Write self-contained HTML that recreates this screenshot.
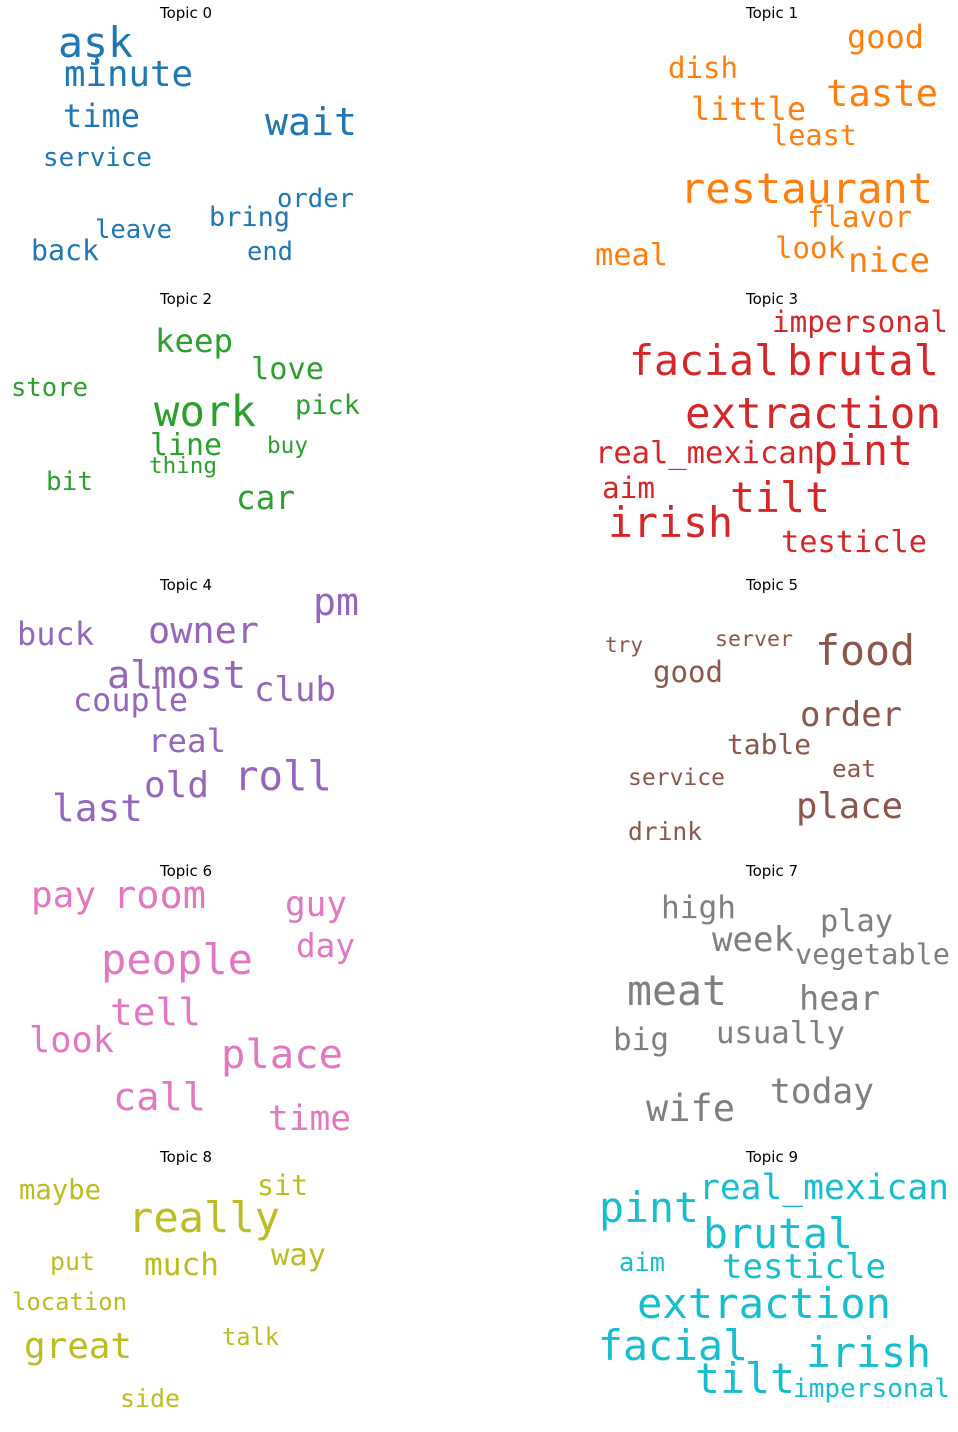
<!DOCTYPE html>
<html><head><meta charset="utf-8"><style>
html,body{margin:0;padding:0;background:#fff;}
svg{display:block;}
</style></head><body>
<svg id="chart" width="958" height="1432" viewBox="0 0 958 1432" xmlns="http://www.w3.org/2000/svg"></svg>
<script>
const topicColors = ["#1f77b4","#ff7f0e","#2ca02c","#d62728","#9467bd","#8c564b","#e377c2","#7f7f7f","#bcbd22","#17becf"];
const topicWords = [
 ["aşk","minute","time","wait","service","order","bring","leave","back","end"],
 ["good","dish","taste","little","least","restaurant","flavor","meal","look","nice"],
 ["keep","love","store","work","pick","line","buy","thing","bit","car"],
 ["impersonal","facial","brutal","extraction","real_mexican","pint","aim","tilt","irish","testicle"],
 ["pm","buck","owner","almost","club","couple","real","roll","old","last"],
 ["try","server","food","good","order","table","eat","service","place","drink"],
 ["pay","room","guy","day","people","tell","look","place","call","time"],
 ["high","play","week","vegetable","meat","hear","usually","big","today","wife"],
 ["sit","maybe","really","put","much","way","location","talk","great","side"],
 ["real_mexican","pint","brutal","aim","testicle","extraction","facial","irish","tilt","impersonal"]
];
const topicLeft = [
 [58,64,63,265,43,277,209,95,31,247],
 [847,668,826,691,771,680,807,595,775,848],
 [155,251,11,154,295,150,267,149,46,236],
 [772,629,787,685,595,813,602,730,608,781],
 [313,17,148,107,254,73,148,234,144,52],
 [605,715,815,653,800,727,832,628,796,628],
 [31,113,285,296,101,110,29,221,113,268],
 [661,820,712,795,627,799,716,613,770,646],
 [257,19,128,50,144,271,12,222,24,120],
 [699,599,703,619,722,637,598,806,695,793]
];
const topicBaseline = [
 [57,86,127,135,166,207,226,238,260,260],
 [48,78,106,120,145,203,227,265,258,272],
 [352,379,396,426,414,455,453,473,490,509],
 [332,375,375,428,463,465,498,512,537,552],
 [615,645,643,688,701,711,752,790,797,821],
 [652,646,665,682,726,754,777,785,818,840],
 [907,908,916,957,974,1025,1052,1068,1110,1130],
 [918,931,951,964,1005,1010,1043,1050,1103,1121],
 [1195,1199,1232,1270,1275,1265,1310,1345,1358,1407],
 [1199,1222,1248,1271,1278,1318,1360,1367,1393,1397]
];
const topicWidth = [
 [75,129,77,92,109,77,81,77,68,46],
 [77,70,112,115,86,253,105,73,70,82],
 [78,73,77,102,65,72,41,68,47,59],
 [176,150,152,256,220,100,53,100,125,146],
 [46,77,111,139,82,115,78,98,65,91],
 [38,78,100,70,102,84,44,97,107,74],
 [65,93,62,59,152,91,85,122,93,83],
 [75,73,82,155,100,81,129,56,104,89],
 [51,82,152,45,75,55,115,57,108,60],
 [250,100,150,46,164,254,150,125,100,157]
];
const titleCenters = [186,772];
const svg = document.getElementById('chart');
const NS = "http://www.w3.org/2000/svg";
for (let t = 0; t < 10; t++) {
  const g = document.createElementNS(NS,'g');
  
  
  svg.appendChild(g);
  const title = document.createElementNS(NS,'text');
  
  
  title.setAttribute('x', titleCenters[t % 2]);
  title.setAttribute('y', 18 + Math.floor(t / 2) * 286);
  title.setAttribute('text-anchor', 'middle');
  title.setAttribute('font-family', '"DejaVu Sans", "Liberation Sans", sans-serif');
  title.setAttribute('font-size', '15');
  title.setAttribute('fill', '#000');
  title.textContent = 'Topic ' + t;
  g.appendChild(title);
  const words = topicWords[t];
  for (let i = 0; i < words.length; i++) {
    const w = words[i];
    const width = topicWidth[t][i];
    const size = width / (w.length * 0.602);
    const el = document.createElementNS(NS,'text');
    
    
    el.setAttribute('x', topicLeft[t][i]);
    el.setAttribute('y', topicBaseline[t][i]);
    el.setAttribute('font-family', '"DejaVu Sans Mono", "Liberation Mono", monospace');
    el.setAttribute('font-size', size.toFixed(1));
    el.setAttribute('textLength', width);
    el.setAttribute('lengthAdjust', 'spacingAndGlyphs');
    el.setAttribute('fill', topicColors[t]);
    el.textContent = w;
    g.appendChild(el);
  }
}
</script>
</body></html>
